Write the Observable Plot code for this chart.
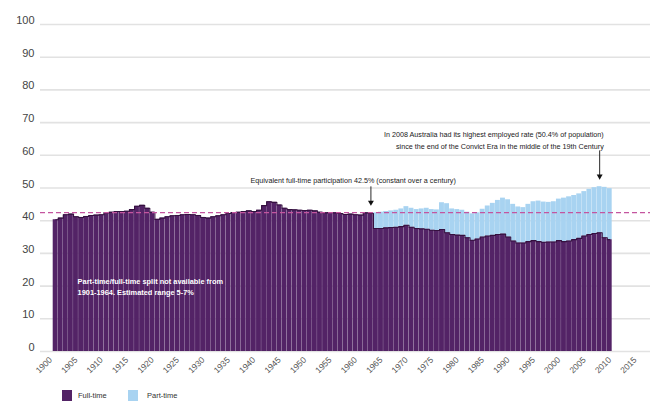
<!DOCTYPE html>
<html>
<head>
<meta charset="utf-8">
<script src="https://cdn.jsdelivr.net/npm/d3@7"></script>
<script src="https://cdn.jsdelivr.net/npm/@observablehq/plot@0.6"></script>
<style>
  html, body { margin: 0; padding: 0; background: #fff; }
  #chart { width: 650px; font-family: "Liberation Sans", Arial, sans-serif; }
  .legend { position: relative; height: 19px; font-size: 7.5px; color: #333; }
  .legend .sw { position: absolute; top: 6px; width: 10px; height: 11px; }
  .legend .lb { position: absolute; top: 7px; line-height: 10px; }
</style>
</head>
<body>
<div id="chart"></div>
<script>
// Employed persons as a share of the population, Australia (per cent)
const firstYear = 1901;
const fullTime = [
  40.3, 40.8, 41.8, 42.0, 41.2, 41.0, 41.3, 41.6, 41.7, 41.8, // 1901-1910
  42.4, 42.6, 42.8, 42.8, 42.9, 43.4, 44.4, 44.7, 43.8, 42.6, // 1911-1920
  40.4, 40.8, 41.2, 41.5, 41.6, 41.8, 41.9, 41.8, 41.6, 41.0, // 1921-1930
  40.8, 41.2, 41.5, 41.8, 42.2, 42.5, 42.6, 42.8, 43.0, 42.8, // 1931-1940
  43.2, 44.6, 45.8, 45.6, 44.8, 43.8, 43.4, 43.3, 43.2, 43.1, // 1941-1950
  43.2, 43.0, 42.6, 42.4, 42.5, 42.4, 42.2, 41.9, 42.0, 41.8, // 1951-1960
  41.7, 42.4, 42.2, 37.6, 37.6, 37.8, 37.9, 38.0, 38.2, 38.6, // 1961-1970
  38.0, 37.6, 37.5, 37.4, 37.1, 37.0, 37.3, 36.3, 35.8, 35.6, // 1971-1980
  35.5, 34.8, 34.0, 34.4, 35.0, 35.3, 35.5, 35.8, 35.9, 35.0, // 1981-1990
  33.8, 33.2, 33.2, 33.6, 33.9, 33.6, 33.4, 33.5, 33.5, 33.9, // 1991-2000
  33.6, 33.8, 34.2, 34.6, 35.3, 35.8, 36.1, 36.3, 34.8, 34.2  // 2001-2010
];

const partTimeFirstYear = 1964;
const partTime = [
  4.8, 5.0, 5.0, 5.1, 5.2, 5.4, 5.7,                          // 1964-1970
  5.8, 5.8, 6.1, 6.4, 6.3, 6.3, 8.2, 8.9, 7.8, 7.8,           // 1971-1980
  7.7, 7.8, 8.1, 8.0, 8.5, 9.2, 9.8, 10.4, 11.0, 11.4,        // 1981-1990
  11.2, 11.0, 10.8, 11.4, 11.9, 12.4, 12.3, 12.1, 12.3, 12.7, // 1991-2000
  13.3, 13.5, 13.5, 13.6, 13.6, 13.8, 14.0, 14.1, 15.4, 15.6  // 2001-2010
];

const seriesNames = ["Full-time", "Part-time"];
const seriesColors = ["#532366", "#a8d3f1"];

const xTickYears = [1900, 1905, 1910, 1915, 1920, 1925, 1930, 1935, 1940, 1945, 1950, 1955,
                    1960, 1965, 1970, 1975, 1980, 1985, 1990, 1995, 2000, 2005, 2010, 2015];
const yTicks = [0, 10, 20, 30, 40, 50, 60, 70, 80, 90, 100];

const fullTimeEquivalent = 42.5;

const noteSplit = ["Part-time/full-time split not available from", "1901-1964. Estimated range 5-7%"];
const noteEquivalent = "Equivalent full-time participation 42.5% (constant over a century)";
const notePeak = ["In 2008 Australia had its highest employed rate (50.4% of population)",
                  "since the end of the Convict Era in the middle of the 19th Century"];

// Stack part-time on top of full-time, year by year
const rows = [];
fullTime.forEach((v, i) => {
  rows.push({year: firstYear + i, type: seriesNames[0], y1: 0, y2: v});
});
partTime.forEach((v, i) => {
  const year = partTimeFirstYear + i;
  const base = fullTime[year - firstYear];
  rows.push({year, type: seriesNames[1], y1: base, y2: base + v});
});
const fullRows = rows.filter(d => d.type === seriesNames[0]);

// Annotation anchors (year, value)
const peakYear = 2008;
const peakTotal = fullTime[peakYear - firstYear] + partTime[peakYear - partTimeFirstYear];
const arrows = [
  {x: 1963, from: 50.5, to: 45.6},
  {x: peakYear, from: 61.5, to: peakTotal + 3.2}
];
const noteMiddle = [{x: 1959.5, y: 52.3, text: noteEquivalent}];
const noteEnd = [{x: 2008.8, y: 64.9, text: notePeak.join("\n")}];
const inside = [{x: 1905.3, y: 20.0, text: noteSplit.join("\n")}];

const chart = Plot.plot({
  width: 650,
  height: 384,
  marginLeft: 40,
  marginRight: 0,
  marginTop: 24,
  marginBottom: 33,
  style: {fontFamily: "'Liberation Sans', Arial, sans-serif", background: "#fff"},
  x: {domain: [1898, 2018], label: null},
  y: {domain: [0, 100], label: null},
  color: {domain: seriesNames, range: seriesColors},
  marks: [
    Plot.gridY(yTicks, {stroke: "#e2e2e2", strokeOpacity: 1, strokeWidth: 1.6}),
    Plot.rect(rows, {
      x1: d => d.year - 0.5,
      x2: d => d.year + 0.5,
      y1: "y1",
      y2: "y2",
      fill: "type",
      insetRight: 0.2
    }),
    Plot.lineY(fullRows, {x: "year", y: "y2", curve: "step", stroke: "#35103f", strokeWidth: 1.1}),
    Plot.ruleY([fullTimeEquivalent], {stroke: "#c4559f", strokeWidth: 1.2, strokeDasharray: "5,3"}),
    Plot.axisY(yTicks, {
      tickSize: 0, tickPadding: 6, fontSize: 11, fill: "#444", dy: -4, label: null
    }),
    Plot.axisX(xTickYears, {
      tickSize: 0, tickPadding: 7, tickRotate: -45, fontSize: 8.5, fill: "#555",
      tickFormat: d => String(d), label: null
    }),
    Plot.link(arrows, {x1: "x", x2: "x", y1: "from", y2: "to", stroke: "#111", strokeWidth: 0.9}),
    Plot.dot(arrows, {x: "x", y: "to", symbol: "triangle", rotate: 180, r: 2.2, fill: "#111"}),
    Plot.text(noteMiddle, {
      x: "x", y: "y", text: "text", textAnchor: "middle",
      fontSize: 7.2, fill: "#1a1a1a"
    }),
    Plot.text(noteEnd, {
      x: "x", y: "y", text: "text", textAnchor: "end",
      fontSize: 7.2, fill: "#1a1a1a", lineHeight: 1.6
    }),
    Plot.text(inside, {
      x: "x", y: "y", text: "text", textAnchor: "start",
      fontSize: 7.4, fontWeight: "bold", fill: "#fff", lineHeight: 1.55
    })
  ]
});

const root = document.getElementById("chart");
root.appendChild(chart);

// Legend below the plot
const legend = document.createElement("div");
legend.className = "legend";
const legendPos = [{sw: 62, lb: 78}, {sw: 128, lb: 147}];
seriesNames.forEach((name, i) => {
  const sw = document.createElement("span");
  sw.className = "sw";
  sw.style.left = legendPos[i].sw + "px";
  sw.style.background = seriesColors[i];
  const lb = document.createElement("span");
  lb.className = "lb";
  lb.style.left = legendPos[i].lb + "px";
  lb.textContent = name;
  legend.appendChild(sw);
  legend.appendChild(lb);
});
root.appendChild(legend);
</script>
</body>
</html>
